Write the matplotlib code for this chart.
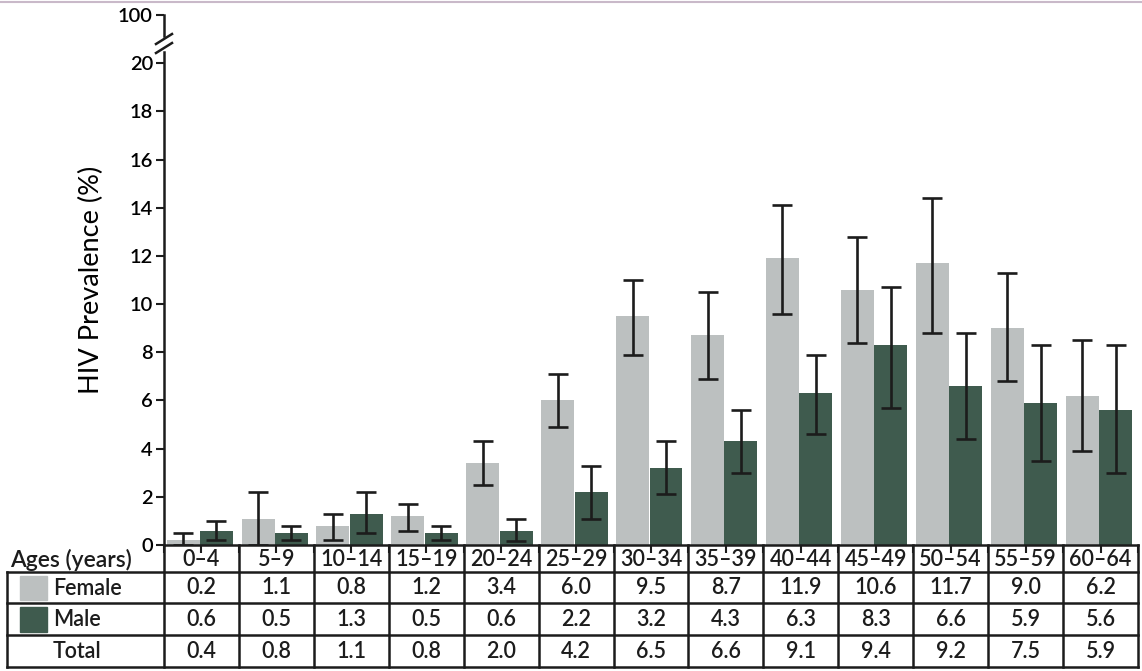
import matplotlib
matplotlib.use("Agg")
import matplotlib.pyplot as plt
from matplotlib.patches import Rectangle
import numpy as np

plt.rcParams['font.family'] = ['Lato', 'DejaVu Sans']
plt.rcParams['font.weight'] = 'semibold'

ages = ["0–4", "5–9", "10–14", "15–19", "20–24", "25–29", "30–34",
        "35–39", "40–44", "45–49", "50–54", "55–59", "60–64"]
female = [0.2, 1.1, 0.8, 1.2, 3.4, 6.0, 9.5, 8.7, 11.9, 10.6, 11.7, 9.0, 6.2]
male = [0.6, 0.5, 1.3, 0.5, 0.6, 2.2, 3.2, 4.3, 6.3, 8.3, 6.6, 5.9, 5.6]
total = [0.4, 0.8, 1.1, 0.8, 2.0, 4.2, 6.5, 6.6, 9.1, 9.4, 9.2, 7.5, 5.9]
female_lo = [0.0, 0.0, 0.2, 0.6, 2.5, 4.9, 7.9, 6.9, 9.6, 8.4, 8.8, 6.8, 3.9]
female_hi = [0.5, 2.2, 1.3, 1.7, 4.3, 7.1, 11.0, 10.5, 14.1, 12.8, 14.4, 11.3, 8.5]
male_lo = [0.2, 0.2, 0.5, 0.2, 0.15, 1.1, 2.1, 3.0, 4.6, 5.7, 4.4, 3.5, 3.0]
male_hi = [1.0, 0.8, 2.2, 0.8, 1.1, 3.3, 4.3, 5.6, 7.9, 10.7, 8.8, 8.3, 8.3]
ytick_vals = [0, 2, 4, 6, 8, 10, 12, 14, 16, 18, 20]
top_label = "100"

W, H = 1142, 671
L, R, T, B = 164, 1138, 15, 545
YMAX = 22.0
FEM_C = "#bcc0c0"
MALE_C = "#3f5b4e"
INK = "#1c1c1c"

fig = plt.figure(figsize=(W / 100, H / 100), dpi=100)
ax = fig.add_axes([L / W, (H - B) / H, (R - L) / W, (B - T) / H])

n = len(ages)
x = np.arange(n)
bw = 0.44
female = np.array(female); male = np.array(male)
ax.bar(x - 0.245, female, width=bw, color=FEM_C, zorder=2)
ax.bar(x + 0.2, male, width=bw, color=MALE_C, zorder=2)
ax.errorbar(x - 0.245, female,
            yerr=[female - np.array(female_lo), np.array(female_hi) - female],
            fmt='none', ecolor=INK, elinewidth=1.9, capsize=7.5, capthick=1.9, zorder=3)
ax.errorbar(x + 0.2, male,
            yerr=[male - np.array(male_lo), np.array(male_hi) - male],
            fmt='none', ecolor=INK, elinewidth=1.9, capsize=7.5, capthick=1.9, zorder=3)

ax.set_xlim(-0.5, n - 0.5)
ax.set_ylim(0, YMAX)
ax.set_yticks(ytick_vals + [YMAX])
ax.set_yticklabels([str(v) for v in ytick_vals] + [top_label], fontsize=14.5)
ax.set_xticks(np.arange(-0.5, n, 0.5))
ax.set_xticklabels([])
ax.tick_params(axis='x', direction='out', length=6, width=1.5, color=INK)
ax.tick_params(axis='y', direction='out', length=6, width=1.5, color=INK, pad=2)
for s in ['top', 'right', 'left']:
    ax.spines[s].set_visible(False)
ax.spines['bottom'].set_linewidth(1.8)
ax.spines['bottom'].set_color(INK)
ax.set_ylabel("HIV Prevalence (%)", fontsize=19.5, labelpad=10)

# overlay in pixel coordinates for the broken axis and the table
ov = fig.add_axes([0, 0, 1, 1])
ov.set_xlim(0, W)
ov.set_ylim(H, 0)
ov.axis('off')
ov.patch.set_visible(False)

def px(v):
    return L + (v + 0.5) / n * (R - L)

lw = 1.8
# broken y axis
ov.plot([L, L], [B, 52], color=INK, lw=lw)
ov.plot([L, L], [36, T], color=INK, lw=lw)
for yc in (39, 48):
    ov.plot([L - 8, L + 8], [yc + 5, yc - 5], color=INK, lw=lw)

# top border line
ov.plot([0, W], [2, 2], color="#c9b9c9", lw=1.5)

# table
rows_y = [545, 572, 603, 635, 667]
tl = 7
for yv in rows_y[1:]:
    ov.plot([tl, R], [yv, yv], color=INK, lw=lw)
ov.plot([tl, tl], [rows_y[1], rows_y[-1]], color=INK, lw=lw)
for i in range(n + 1):
    xb = px(i - 0.5)
    ov.plot([xb, xb], [rows_y[0], rows_y[-1]], color=INK, lw=lw)

fs = 15.5
ov.text(10, (rows_y[0] + rows_y[1]) / 2 + 1, "Ages (years)", fontsize=16.5,
        ha='left', va='center', color=INK)
for i, a in enumerate(ages):
    ov.text(px(i), (rows_y[0] + rows_y[1]) / 2 + 1, a, fontsize=fs,
            ha='center', va='center', color=INK)

row_labels = ["Female", "Male", "Total"]
row_vals = [female, male, total]
row_cols = [FEM_C, MALE_C, None]
for r in range(3):
    y0, y1 = rows_y[r + 1], rows_y[r + 2]
    yc = (y0 + y1) / 2
    if row_cols[r] is not None:
        ov.add_patch(Rectangle((20, y0 + 4), 27, y1 - y0 - 7, color=row_cols[r]))
    ov.text(53, yc + 1, row_labels[r], fontsize=fs, ha='left', va='center', color=INK)
    for i in range(n):
        ov.text(px(i), yc, f"{row_vals[r][i]:.1f}", fontsize=fs,
                ha='center', va='center', color=INK)

fig.savefig("out.png", dpi=100)
